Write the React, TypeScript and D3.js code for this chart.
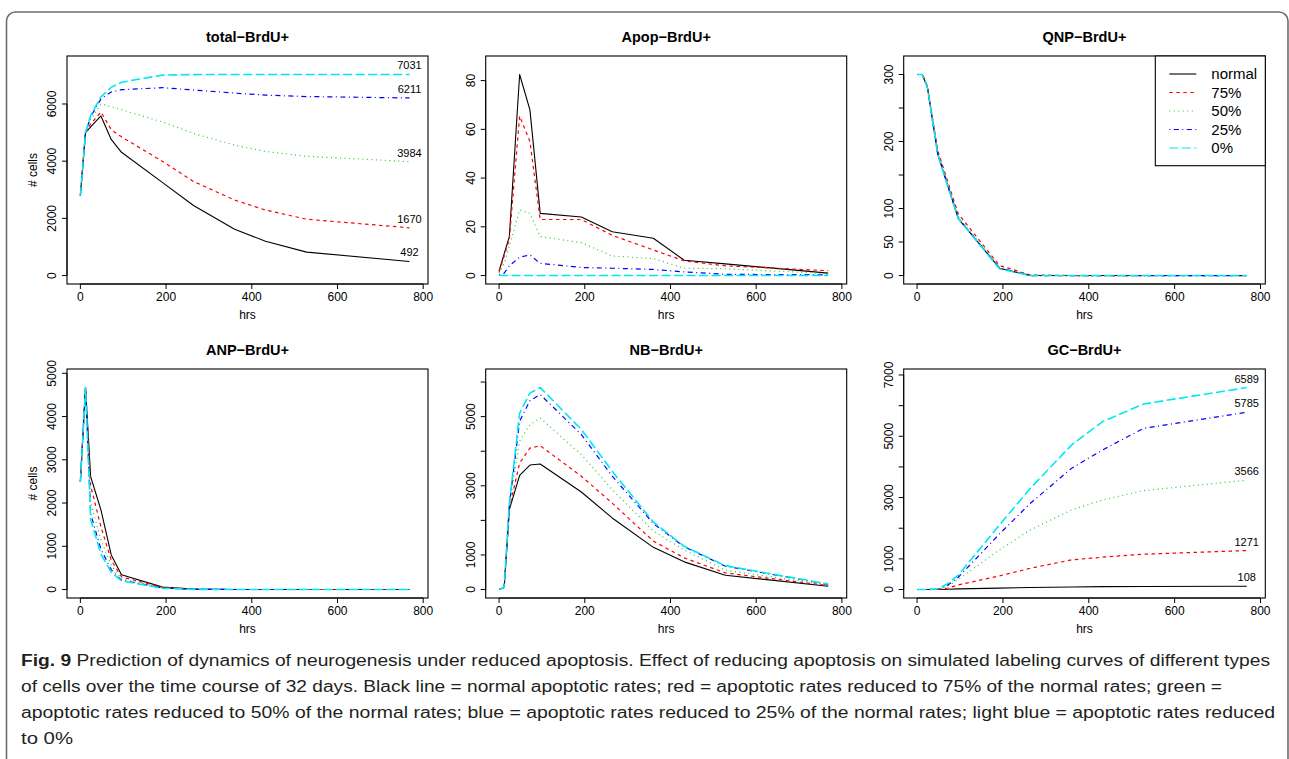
import React from "react";
import * as d3 from "d3";

// ---------- data ----------
const HOURS = [0, 12, 24, 48, 72, 96, 192, 264, 360, 432, 528, 768];
const SCENARIOS = ["normal", "75%", "50%", "25%", "0%"];
const X_TICKS = [0, 200, 400, 600, 800];

const totalNormal = [2800, 5000, 5200, 5580, 4760, 4310, 3250, 2450, 1620, 1200, 820, 492];
const total75 = [2800, 5000, 5300, 5720, 5100, 4850, 3990, 3290, 2640, 2290, 1970, 1670];
const total50 = [2800, 5000, 5450, 6000, 5900, 5800, 5370, 4970, 4560, 4340, 4170, 3984];
const total25 = [2800, 5000, 5550, 6180, 6420, 6500, 6570, 6490, 6380, 6310, 6260, 6211];
const total0 = [2800, 5000, 5600, 6250, 6580, 6760, 7010, 7028, 7031, 7031, 7031, 7031];

const apopNormal = [1.8, 9, 16, 82.5, 68, 25.5, 24, 18, 15.3, 6.3, 4.8, 1];
const apop75 = [1.5, 8, 15, 65.5, 55, 23, 23, 16.5, 10.5, 6, 4, 2];
const apop50 = [1, 5, 12, 27, 25.5, 16, 13.5, 8, 7, 3, 2.8, 0.8];
const apop25 = [0.3, 1, 4, 7.5, 8.5, 5, 3.3, 3, 2.5, 1.5, 0.5, 0.3];
const apop0 = [0, 0, 0, 0, 0, 0, 0, 0, 0, 0, 0, 0];

const qnpNormal = [300, 300, 281, 182, 133, 85, 11, 0, 0, 0, 0, 0];
const qnp75 = [300, 300, 283, 187, 139, 92, 15, 1, 0, 0, 0, 0];
const qnp50 = [300, 300, 282, 184, 135, 88, 12, 0, 0, 0, 0, 0];
const qnp25 = [300, 300, 281, 182, 133, 86, 11, 0, 0, 0, 0, 0];
const qnp0 = [300, 300, 281, 181, 132, 85, 10, 0, 0, 0, 0, 0];

const anpNormal = [2490, 4670, 2610, 1840, 800, 340, 55, 10, 0, 0, 0, 0];
const anp75 = [2490, 4670, 2400, 1450, 680, 290, 48, 8, 0, 0, 0, 0];
const anp50 = [2490, 4670, 2000, 1150, 560, 245, 40, 6, 0, 0, 0, 0];
const anp25 = [2490, 4670, 1750, 930, 460, 215, 35, 5, 0, 0, 0, 0];
const anp0 = [2490, 4670, 1620, 820, 400, 200, 30, 4, 0, 0, 0, 0];

const nbNormal = [0, 60, 2310, 3300, 3600, 3630, 2820, 2070, 1220, 800, 414, 96];
const nb75 = [0, 60, 2350, 3660, 4090, 4160, 3275, 2500, 1400, 915, 480, 115];
const nb50 = [0, 60, 2400, 4290, 4770, 4960, 3900, 2890, 1690, 1140, 560, 130];
const nb25 = [0, 60, 2450, 4870, 5460, 5640, 4480, 3280, 1910, 1235, 675, 150];
const nb0 = [0, 60, 2480, 5100, 5680, 5840, 4630, 3420, 1950, 1250, 690, 160];

const gcNormal = [0, 0, 0, 2, 10, 20, 45, 65, 82, 95, 100, 108];
const gc75 = [0, 0, 0, 5, 50, 150, 446, 695, 967, 1054, 1152, 1271];
const gc50 = [0, 0, 0, 10, 120, 330, 1293, 1945, 2598, 2924, 3228, 3566];
const gc25 = [0, 0, 0, 10, 150, 400, 1815, 2815, 3957, 4554, 5261, 5785];
const gc0 = [0, 0, 0, 15, 200, 470, 2109, 3304, 4717, 5478, 6054, 6589];

const totalTicks = [0, 2000, 4000, 6000];
const apopTicks = [0, 20, 40, 60, 80];
const qnpTicks = [0, 50, 100, 150, 200, 250, 300];
const qnpLabels = [0, 50, 100, 200, 300];
const anpTicks = [0, 1000, 2000, 3000, 4000, 5000];
const nbTicks = [0, 1000, 2000, 3000, 4000, 5000, 6000];
const nbLabels = [0, 1000, 3000, 5000];
const gcTicks = [0, 1000, 2000, 3000, 4000, 5000, 6000, 7000];
const gcLabels = [0, 1000, 3000, 5000, 7000];

const CAPTION_LINES = [
  "Prediction of dynamics of neurogenesis under reduced apoptosis. Effect of reducing apoptosis on simulated labeling curves of different types",
  "of cells over the time course of 32 days. Black line = normal apoptotic rates; red = apoptotic rates reduced to 75% of the normal rates; green =",
  "apoptotic rates reduced to 50% of the normal rates; blue = apoptotic rates reduced to 25% of the normal rates; light blue = apoptotic rates reduced",
  "to 0%",
];

// ---------- styles ----------
const COLORS = ["#000000", "#ff0000", "#22cc22", "#0000ff", "#00e8f0"];
const DASHES = ["", "3.5,3.5", "1,3.5", "1,3.5,5,3.5", "9,3.5"];
const WIDTHS = [1.1, 1.2, 1.2, 1.2, 1.6];
const FONT = "'Liberation Sans', Arial, Helvetica, sans-serif";
const CAP_FONT = "'Liberation Sans Narrow', 'Arial Narrow', 'Liberation Sans', sans-serif";

type Panel = {
  title: string;
  series: number[][];
  ticks: number[];
  labels: number[];
  ylab: boolean;
  endLabels: boolean;
  legend: boolean;
};

const PANELS: Panel[] = [
  { title: "total\u2212BrdU+", series: [totalNormal, total75, total50, total25, total0], ticks: totalTicks, labels: totalTicks, ylab: true, endLabels: true, legend: false },
  { title: "Apop\u2212BrdU+", series: [apopNormal, apop75, apop50, apop25, apop0], ticks: apopTicks, labels: apopTicks, ylab: false, endLabels: false, legend: false },
  { title: "QNP\u2212BrdU+", series: [qnpNormal, qnp75, qnp50, qnp25, qnp0], ticks: qnpTicks, labels: qnpLabels, ylab: false, endLabels: false, legend: true },
  { title: "ANP\u2212BrdU+", series: [anpNormal, anp75, anp50, anp25, anp0], ticks: anpTicks, labels: anpTicks, ylab: true, endLabels: false, legend: false },
  { title: "NB\u2212BrdU+", series: [nbNormal, nb75, nb50, nb25, nb0], ticks: nbTicks, labels: nbLabels, ylab: false, endLabels: false, legend: false },
  { title: "GC\u2212BrdU+", series: [gcNormal, gc75, gc50, gc25, gc0], ticks: gcTicks, labels: gcLabels, ylab: false, endLabels: true, legend: false },
];

const COLS: [number, number][] = [[67, 428], [485.7, 846.7], [903.7, 1265.3]];
const ROWS: [number, number][] = [[56, 284], [369, 598]];

function extend(lo: number, hi: number): [number, number] {
  const r = hi - lo;
  return [lo - 0.04 * r, hi + 0.04 * r];
}

function PanelView({ p, idx }: { p: Panel; idx: number }) {
  const [x0, x1] = COLS[idx % 3];
  const [y0, y1] = ROWS[Math.floor(idx / 3)];
  const xs = d3.scaleLinear().domain(extend(0, 780)).range([x0, x1]);
  const ymax = (d3.max(p.series.flat()) as number) * 1.05;
  const ys = d3.scaleLinear().domain(extend(0, ymax)).range([y1, y0]);
  const line = d3
    .line<number>()
    .x((_, i) => xs(HOURS[i]))
    .y((d) => ys(d));
  const cx = (x0 + x1) / 2;
  const cy = (y0 + y1) / 2;
  const lastT = HOURS[HOURS.length - 1];
  return (
    <g fontFamily={FONT} fill="#000">
      <text x={cx} y={y0 - 14} textAnchor="middle" fontWeight="bold" fontSize={14.5}>
        {p.title}
      </text>
      {p.series.map((s, i) => (
        <path
          key={i}
          d={line(s) || ""}
          fill="none"
          stroke={COLORS[i]}
          strokeWidth={WIDTHS[i]}
          strokeDasharray={DASHES[i] || undefined}
          strokeLinejoin="round"
        />
      ))}
      <rect x={x0} y={y0} width={x1 - x0} height={y1 - y0} fill="none" stroke="#000" strokeWidth={1.1} />
      {X_TICKS.map((t) => (
        <g key={t}>
          <line x1={xs(t)} x2={xs(t)} y1={y1} y2={y1 + 5} stroke="#000" />
          <text x={xs(t)} y={y1 + 16.5} textAnchor="middle" fontSize={12}>
            {t}
          </text>
        </g>
      ))}
      <line x1={xs(0)} x2={xs(800)} y1={y1} y2={y1} stroke="#000" />
      <text x={cx} y={y1 + 35} textAnchor="middle" fontSize={12}>
        hrs
      </text>
      {p.ticks.map((t) => (
        <line key={t} x1={x0 - 5} x2={x0} y1={ys(t)} y2={ys(t)} stroke="#000" />
      ))}
      <line x1={x0} x2={x0} y1={ys(p.ticks[0])} y2={ys(p.ticks[p.ticks.length - 1])} stroke="#000" />
      {p.labels.map((t) => (
        <text
          key={t}
          transform={`translate(${x0 - 15},${ys(t)}) rotate(-90)`}
          textAnchor="middle"
          dy="0.35em"
          fontSize={12}
        >
          {t}
        </text>
      ))}
      {p.ylab && (
        <text transform={`translate(${x0 - 34},${cy}) rotate(-90)`} textAnchor="middle" dy="0.35em" fontSize={12}>
          # cells
        </text>
      )}
      {p.endLabels &&
        p.series.map((s, i) => (
          <text key={i} x={xs(lastT)} y={ys(s[s.length - 1]) - 5} textAnchor="middle" fontSize={11}>
            {s[s.length - 1]}
          </text>
        ))}
      {p.legend && (
        <g>
          <rect x={x1 - 110} y={y0} width={110} height={109.7} fill="#fff" stroke="#000" strokeWidth={1.1} />
          {SCENARIOS.map((name, i) => {
            const ly = y0 + 18 + i * 18.5;
            return (
              <g key={name}>
                <line
                  x1={x1 - 96}
                  x2={x1 - 69}
                  y1={ly}
                  y2={ly}
                  stroke={COLORS[i]}
                  strokeWidth={i === 0 ? 1.1 : 1.2}
                  strokeDasharray={DASHES[i] || undefined}
                />
                <text x={x1 - 54} y={ly} dy="0.35em" fontSize={15}>
                  {name}
                </text>
              </g>
            );
          })}
        </g>
      )}
    </g>
  );
}

export default function App() {
  return (
    <svg
      width={1289}
      height={759}
      style={{ position: "absolute", left: 0, top: 0, background: "#fff" }}
    >
      <rect x={6.5} y={12} width={1281.5} height={800} rx={9} ry={9} fill="#fff" stroke="#6d6e71" strokeWidth={1.6} />
      {PANELS.map((p, i) => (
        <PanelView key={i} p={p} idx={i} />
      ))}
      <g fontFamily={CAP_FONT} fontSize={16} fill="#231f20">
        <text x={21} y={666} textLength={1249} lengthAdjust="spacingAndGlyphs">
          <tspan fontWeight="bold">Fig. 9</tspan> {CAPTION_LINES[0]}
        </text>
        <text x={21} y={692} textLength={1201} lengthAdjust="spacingAndGlyphs">
          {CAPTION_LINES[1]}
        </text>
        <text x={21} y={718} textLength={1254} lengthAdjust="spacingAndGlyphs">
          {CAPTION_LINES[2]}
        </text>
        <text x={21} y={744} textLength={52} lengthAdjust="spacingAndGlyphs">
          {CAPTION_LINES[3]}
        </text>
      </g>
    </svg>
  );
}
